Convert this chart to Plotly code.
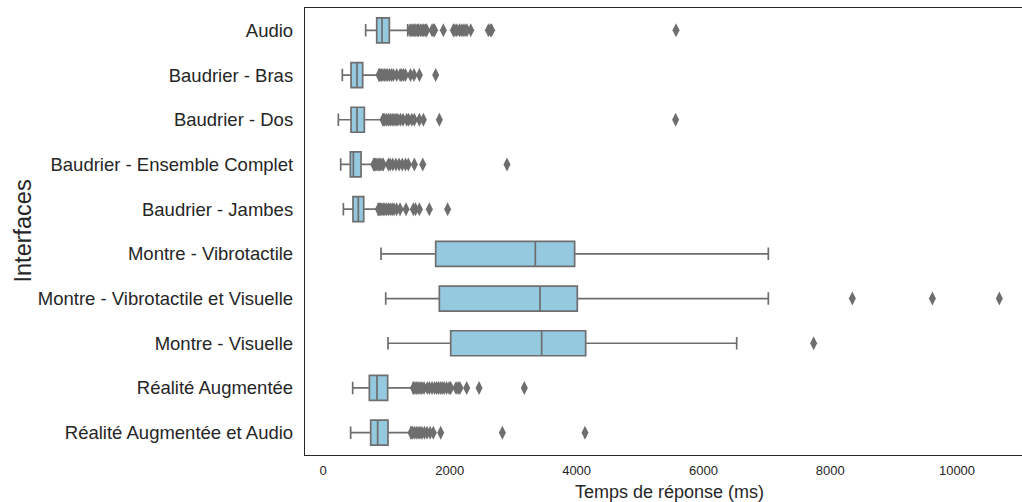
import plotly.graph_objects as go

categories = [
    "Audio",
    "Baudrier - Bras",
    "Baudrier - Dos",
    "Baudrier - Ensemble Complet",
    "Baudrier - Jambes",
    "Montre - Vibrotactile",
    "Montre - Vibrotactile et Visuelle",
    "Montre - Visuelle",
    "Réalité Augmentée",
    "Réalité Augmentée et Audio",
]

lower_whisker = [673, 305, 242, 279, 321, 915, 989, 1025, 468, 436]
q1_values = [847, 442, 442, 431, 473, 1777, 1835, 2014, 731, 752]
median_values = [931, 536, 536, 479, 557, 3349, 3423, 3449, 852, 862]
q3_values = [1046, 626, 652, 600, 642, 3969, 4011, 4143, 1020, 1025]
upper_whisker = [1336, 883, 946, 800, 873, 7024, 7024, 6525, 1425, 1388]

out_audio = [1372, 1395, 1420, 1440, 1465, 1490, 1510, 1540, 1565, 1590, 1615, 1635,
             1720, 1745, 1760, 1898, 2056, 2080, 2110, 2150, 2180, 2210, 2240, 2270,
             2330, 2608, 2640, 2660, 5568]
out_bras = [883, 900, 920, 945, 970, 995, 1020, 1050, 1080, 1110, 1162, 1215, 1240,
            1270, 1300, 1380, 1435, 1520, 1777]
out_dos = [946, 970, 1000, 1030, 1060, 1090, 1120, 1150, 1180, 1220, 1262, 1320, 1350,
           1400, 1440, 1520, 1583, 1835, 5562]
out_ensemble = [800, 815, 830, 850, 870, 890, 910, 935, 950, 1031, 1060, 1100, 1150,
                1200, 1250, 1300, 1346, 1441, 1573, 2902]
out_jambes = [873, 890, 910, 930, 950, 975, 1000, 1030, 1060, 1090, 1120, 1160, 1215,
              1309, 1425, 1460, 1520, 1677, 1966]
out_montre_vibro = []
out_montre_vibro_vis = [8349, 9611, 10667]
out_montre_vis = [7739]
out_ra = [1425, 1450, 1475, 1500, 1530, 1560, 1594, 1646, 1680, 1720, 1760, 1793, 1819,
          1850, 1880, 1910, 1950, 1990, 2014, 2098, 2130, 2160, 2266, 2461, 3175]
out_ra_audio = [1388, 1410, 1440, 1470, 1500, 1530, 1560, 1600, 1640, 1690, 1740, 1856,
                2829, 4132]

outliers = [out_audio, out_bras, out_dos, out_ensemble, out_jambes, out_montre_vibro,
            out_montre_vibro_vis, out_montre_vis, out_ra, out_ra_audio]

x_ticks = [0, 2000, 4000, 6000, 8000, 10000]

FILL = "#94c9df"
LINE = "#6e6e6e"
TEXT = "#262626"
FONT = "Liberation Sans, Arial, sans-serif"

fig = go.Figure()
fig.add_trace(go.Box(
    y=categories,
    q1=q1_values,
    median=median_values,
    q3=q3_values,
    lowerfence=lower_whisker,
    upperfence=upper_whisker,
    orientation="h",
    boxpoints=False,
    fillcolor=FILL,
    line=dict(color=LINE, width=1.7),
    whiskerwidth=0.5,
    showlegend=False,
    hoverinfo="skip",
))

ox, oy = [], []
for cat, vals in zip(categories, outliers):
    for v in vals:
        ox.append(v)
        oy.append(cat)
fig.add_trace(go.Scatter(
    x=ox, y=oy, mode="markers",
    marker=dict(symbol="diamond-tall", size=10, color=LINE, line=dict(width=0)),
    showlegend=False, hoverinfo="skip",
))

fig.update_layout(
    width=1022, height=502,
    margin=dict(l=305, r=0, t=8, b=47),
    plot_bgcolor="white", paper_bgcolor="white",
    boxgap=0.2,
    font=dict(family=FONT, color=TEXT),
    xaxis=dict(
        range=[-284, 11025],
        tickvals=x_ticks,
        ticktext=[str(t) for t in x_ticks],
        showgrid=False, zeroline=False,
        showline=True, linecolor=TEXT, linewidth=1.3, mirror=True,
        ticks="", ticklabelstandoff=3,
        tickfont=dict(size=13, color=TEXT, family=FONT),
    ),
    yaxis=dict(
        categoryorder="array", categoryarray=categories,
        range=[9.5, -0.5],
        showgrid=False, zeroline=False,
        showline=True, linecolor=TEXT, linewidth=1.3, mirror=False,
        ticks="", ticklabelstandoff=7,
        tickfont=dict(size=18.5, color=TEXT, family=FONT),
    ),
    annotations=[
        dict(text="Temps de réponse (ms)", xref="paper", yref="paper",
             x=(669 - 305) / 717, y=-(492 - 455) / 447, xanchor="center", yanchor="middle",
             showarrow=False, font=dict(size=18, color=TEXT, family=FONT)),
        dict(text="Interfaces", xref="paper", yref="paper",
             x=(22 - 305) / 717, y=0.5, xanchor="center", yanchor="middle", textangle=-90,
             showarrow=False, font=dict(size=23.5, color=TEXT, family=FONT)),
    ],
)

fig.write_html(
    "out.html",
    config={"displayModeBar": False},
    post_script="document.body.style.margin='0';document.body.style.overflow='hidden';",
)
